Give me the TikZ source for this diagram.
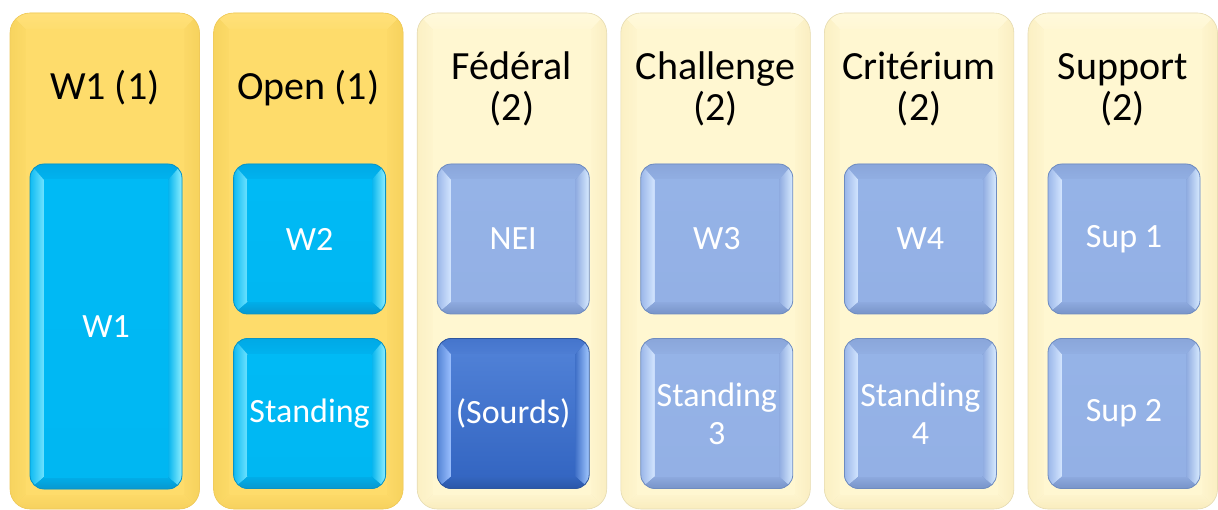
\documentclass[tikz,border=0pt]{standalone}
\usepackage{fontspec}
\setmainfont{Carlito}
\usetikzlibrary{calc}
% cyan boxes
\definecolor{cyF}{HTML}{00BAF5}\definecolor{cyFb}{HTML}{00B7F2}
\definecolor{cyT}{HTML}{00A9E6}\definecolor{cyTb}{HTML}{00B3EF}
\definecolor{cyL}{HTML}{10BBF2}\definecolor{cyLh}{HTML}{6FE3FF}
\definecolor{cyR}{HTML}{05B4EE}\definecolor{cyRh}{HTML}{8EEFFF}
\definecolor{cyBt}{HTML}{00AEE9}\definecolor{cyB}{HTML}{0898D0}
\definecolor{cyLine}{HTML}{0A93C4}
% light blue boxes
\definecolor{lbF}{HTML}{95B3E7}\definecolor{lbFb}{HTML}{93B0E5}
\definecolor{lbT}{HTML}{8AA6DA}\definecolor{lbTb}{HTML}{92AFE3}
\definecolor{lbL}{HTML}{9BB7E9}\definecolor{lbLh}{HTML}{D4E6FF}
\definecolor{lbR}{HTML}{8EAAE0}\definecolor{lbRh}{HTML}{D8EBFF}
\definecolor{lbBt}{HTML}{8EAADF}\definecolor{lbB}{HTML}{7894C8}
\definecolor{lbLine}{HTML}{6F8CC0}
% dark blue box
\definecolor{dbF}{HTML}{4F80D6}\definecolor{dbFb}{HTML}{3466C2}
\definecolor{dbT}{HTML}{4575CC}\definecolor{dbTb}{HTML}{4E7ED4}
\definecolor{dbL}{HTML}{5384D6}\definecolor{dbLh}{HTML}{9CC0FF}
\definecolor{dbR}{HTML}{3F70C8}\definecolor{dbRh}{HTML}{A2C8FF}
\definecolor{dbBt}{HTML}{3466C0}\definecolor{dbB}{HTML}{2A56A8}
\definecolor{dbLine}{HTML}{2E569E}
% gold columns
\definecolor{goF}{HTML}{FEDC6B}\definecolor{goFb}{HTML}{FEDC6B}
\definecolor{goT}{HTML}{FFE07A}\definecolor{goTb}{HTML}{FEDD6E}
\definecolor{goL}{HTML}{F7D45F}\definecolor{goLh}{HTML}{FCDA68}
\definecolor{goR}{HTML}{FCD968}\definecolor{goRh}{HTML}{F6D25D}
\definecolor{goBt}{HTML}{FDDA68}\definecolor{goB}{HTML}{F6D15E}
\definecolor{goLine}{HTML}{EFC95A}
% pale columns
\definecolor{paF}{HTML}{FFF7D1}\definecolor{paFb}{HTML}{FFF7D1}
\definecolor{paT}{HTML}{FFF9DC}\definecolor{paTb}{HTML}{FFF7D3}
\definecolor{paL}{HTML}{FBF0C4}\definecolor{paLh}{HTML}{FEF5CE}
\definecolor{paR}{HTML}{FEF5CE}\definecolor{paRh}{HTML}{FAEEC2}
\definecolor{paBt}{HTML}{FEF5CE}\definecolor{paB}{HTML}{F9ECBE}
\definecolor{paLine}{HTML}{E6DCB4}

\newcommand\bevelpaint[5]{%
  \def\bvpb{path picture bounding box}%
  \begin{scope}[sharp corners]
    \coordinate (bvNW) at ([shift={(#2pt,-#4pt)}]\bvpb.north west);
    \coordinate (bvNE) at ([shift={(-#3pt,-#4pt)}]\bvpb.north east);
    \coordinate (bvSW) at ([shift={(#2pt,#5pt)}]\bvpb.south west);
    \coordinate (bvSE) at ([shift={(-#3pt,#5pt)}]\bvpb.south east);
    \fill[#1B] (\bvpb.south west) rectangle (\bvpb.north east);
    \shade[top color=#1T, bottom color=#1Tb] (\bvpb.north west) -- (\bvpb.north east) -- (bvNE) -- (bvNW) -- cycle;
    \shade[left color=#1L, right color=#1Lh] (\bvpb.north west) -- (bvNW) -- (bvSW) -- (\bvpb.south west) -- cycle;
    \shade[left color=#1R, right color=#1Rh] (\bvpb.north east) -- (bvNE) -- (bvSE) -- (\bvpb.south east) -- cycle;
    \shade[top color=#1Bt, bottom color=#1B] (\bvpb.south west) -- (bvSW) -- (bvSE) -- (\bvpb.south east) -- cycle;
    \shade[top color=#1F, bottom color=#1Fb] (bvNW) rectangle (bvSE);
  \end{scope}}

\tikzset{
  column/.style={rounded corners=20pt, minimum width=189.5pt, minimum height=496pt,
    inner sep=0pt, draw=#1Line, line width=0.6pt, fill=#1F,
    path picture={\bevelpaint{#1}{16}{16}{17}{15}}},
  btn/.style={rounded corners=14pt, minimum width=152pt, minimum height=150pt,
    inner sep=0pt, draw=#1Line, line width=0.8pt, fill=#1F, text=white,
    align=center, font=\fontsize{34}{38}\selectfont,
    path picture={\bevelpaint{#1}{14}{14}{16}{12}}},
  ttl/.style={anchor=base, align=center, text=black, inner sep=0pt,
    font=\fontsize{40}{41}\selectfont}
}

\begin{document}
\begin{tikzpicture}[x=1pt,y=-1pt]
\fill[white] (0,0) rectangle (1218,510);
\useasboundingbox (0,0) rectangle (1218,510);

% columns
\node[column=go] (c1) at (104.75,261) {};
\node[column=go] (c2) at (308.35,261) {};
\node[column=pa] (c3) at (511.95,261) {};
\node[column=pa] (c4) at (715.55,261) {};
\node[column=pa] (c5) at (919.15,261) {};
\node[column=pa] (c6) at (1122.75,261) {};

% titles
\node[ttl] (t1) at (104.75,100) {W1 (1)};
\node[ttl] (t2) at (308.35,100) {Open (1)};
\node[ttl] (t3) at (511.95,121) {Fédéral\\(2)};
\node[ttl] (t4) at (715.55,121) {Challenge\\(2)};
\node[ttl] (t5) at (919.15,121) {Critérium\\(2)};
\node[ttl] (t6) at (1122.75,121) {Support\\(2)};

% buttons
\node[btn=cy, minimum height=325pt] (w1) at (106,326.5) {W1};
\node[btn=cy] (w2) at (309.6,239) {W2};
\node[btn=cy] (st) at (309.6,413.5) {Standing};
\node[btn=lb] (nei) at (513.2,239) {NEI};
\node[btn=db] (sourds) at (513.2,413.5) {(Sourds)};
\node[btn=lb] (w3) at (716.8,239) {W3};
\node[btn=lb] (st3) at (716.8,413.5) {Standing\\3};
\node[btn=lb] (w4) at (920.4,239) {W4};
\node[btn=lb] (st4) at (920.4,413.5) {Standing\\4};
\node[btn=lb] (sup1) at (1124,239) {Sup 1};
\node[btn=lb] (sup2) at (1124,413.5) {Sup 2};
\end{tikzpicture}
\end{document}
